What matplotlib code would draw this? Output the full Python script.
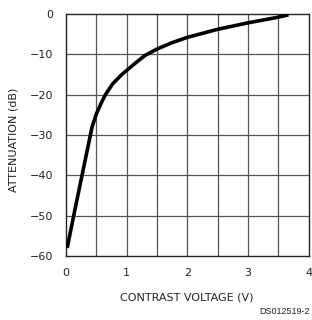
import matplotlib
matplotlib.use("Agg")
import matplotlib.pyplot as plt

# contrast voltage (V) vs attenuation (dB)
voltage = [0.02, 0.12, 0.27, 0.43, 0.50, 0.58, 0.65, 0.77, 0.92, 1.00,
           1.15, 1.30, 1.50, 1.75, 2.00, 2.50, 3.00, 3.50, 3.67]
attenuation = [-58.0, -50.5, -39.6, -28.0, -24.8, -22.1, -20.0, -17.3,
               -15.0, -14.0, -12.1, -10.3, -8.7, -7.1, -5.8, -3.8,
               -2.2, -0.8, -0.2]

x_ticks = [0, 1, 2, 3, 4]
y_ticks = [0, -10, -20, -30, -40, -50, -60]
x_grid = [0.5, 1, 1.5, 2, 2.5, 3, 3.5]

fig = plt.figure(figsize=(3.12, 3.2), dpi=100)
ax = fig.add_axes([66 / 312, 1 - 256 / 320, 242.5 / 312, 242 / 320])

for xv in x_grid:
    ax.axvline(xv, color="#555555", lw=0.9, zorder=1)
for yv in y_ticks[1:-1]:
    ax.axhline(yv, color="#555555", lw=0.9, zorder=1)

ax.plot(voltage, attenuation, color="black", lw=2.6,
        solid_joinstyle="round", solid_capstyle="butt", zorder=3)

ax.set_xlim(0, 4)
ax.set_ylim(-60, 0)
ax.set_xticks(x_ticks)
ax.set_yticks(y_ticks)
ax.set_xticklabels([str(v) for v in x_ticks])
ax.set_yticklabels([str(v).replace("-", "\u2212") for v in y_ticks])
ax.tick_params(length=0, labelsize=8, pad=9, colors="#222222")
for s in ax.spines.values():
    s.set_color("#222222")
    s.set_linewidth(1.0)

fig.text(14 / 312, 1 - 140 / 320, "ATTENUATION (dB)", rotation=90,
         ha="center", va="center", fontsize=8, color="#222222")
fig.text(187 / 312, 1 - 297 / 320, "CONTRAST VOLTAGE (V)",
         ha="center", va="center", fontsize=8, color="#222222")
fig.text(310 / 312, 1 - 311 / 320, "DS012519-2",
         ha="right", va="center", fontsize=6.5, family="Liberation Sans", color="#222222")

fig.savefig("out.png", dpi=100)
